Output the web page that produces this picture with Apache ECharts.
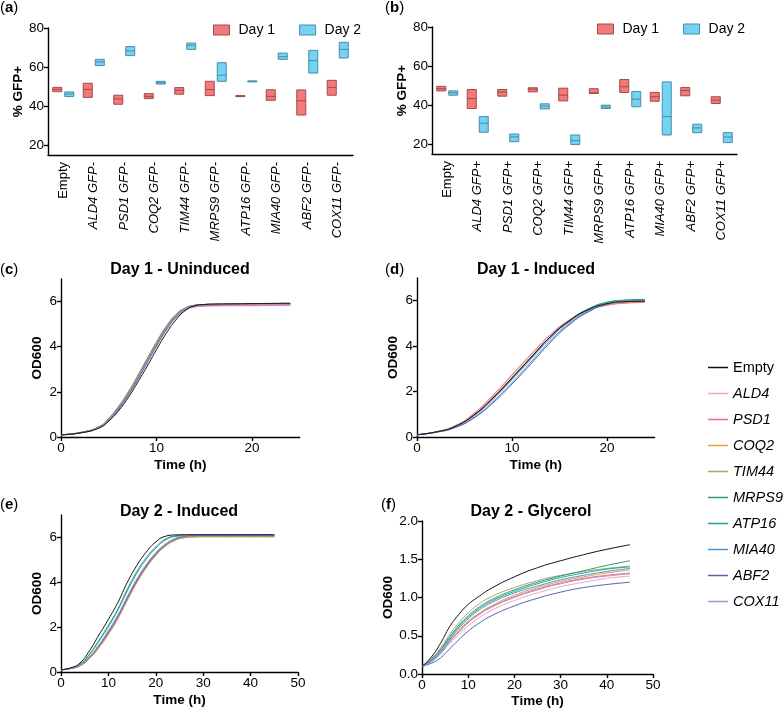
<!DOCTYPE html>
<html><head><meta charset="utf-8">
<script src="https://cdn.jsdelivr.net/npm/echarts@6/dist/echarts.min.js"></script>
<style>html,body{margin:0;padding:0;background:#fff}#c{width:784px;height:709px}</style>
</head><body><div id="c"></div>
<script>
// ---------- categories ----------
const cats = ['Empty','ALD4','PSD1','COQ2','TIM44','MRPS9','ATP16','MIA40','ABF2','COX11'];
const labelsA = cats.map(c => c === 'Empty' ? c : c + ' GFP-');
const labelsB = cats.map(c => c === 'Empty' ? c : c + ' GFP+');
const gfpTicks = [20, 40, 60, 80];

// ---------- panel (a): % GFP- (min, max, mean) ----------
const aDay1Lo   = [47.5,44.6,41.1,44.0,46.2,45.5,45.1,43.1,35.6,45.7];
const aDay1Hi   = [49.7,51.8,45.7,46.5,49.6,52.8,45.5,48.5,48.4,53.3];
const aDay1Mean = [48.7,48.7,43.8,45.1,48.2,48.6,45.3,45.1,42.9,49.7];
const aDay2Lo   = [45.0,60.8,65.9,51.4,69.1,52.8,52.6,64.0,57.0,64.7];
const aDay2Hi   = [47.4,64.0,70.5,52.8,72.3,62.3,53.0,67.2,68.6,72.7];
const aDay2Mean = [46.3,62.7,68.3,52.1,71.2,55.9,52.8,65.4,63.3,69.1];

// ---------- panel (b): % GFP+ ----------
const bDay1Lo   = [47.4,38.4,44.7,46.9,42.3,46.1,46.6,42.1,44.9,41.0];
const bDay1Hi   = [49.7,48.1,48.1,49.0,48.8,48.5,53.2,46.6,49.1,44.4];
const bDay1Mean = [48.5,43.5,46.8,48.3,45.2,46.4,49.5,44.4,47.6,42.7];
const bDay2Lo   = [45.2,26.3,21.5,38.2,20.0,38.4,39.3,24.9,26.1,21.0];
const bDay2Hi   = [47.4,34.3,25.4,40.8,24.9,40.1,47.1,52.0,30.4,26.1];
const bDay2Mean = [46.4,30.9,23.9,39.6,22.0,39.2,43.2,34.3,28.5,23.9];

// ---------- panel (c): Day 1 - Uninduced ----------
const tC = [0,2,4,5,6,7,8,9,10,11,12,13,14,15,16,18,20,22,24];
const cEmpty = [0.10,0.18,0.40,0.70,1.15,1.72,2.40,3.12,3.87,4.58,5.17,5.60,5.81,5.87,5.89,5.90,5.91,5.92,5.93];
const cALD4  = [0.10,0.18,0.41,0.73,1.20,1.80,2.50,3.25,4.00,4.70,5.25,5.60,5.75,5.79,5.80,5.81,5.81,5.82,5.82];
const cPSD1  = [0.10,0.18,0.42,0.74,1.22,1.82,2.52,3.28,4.03,4.73,5.28,5.62,5.77,5.81,5.82,5.83,5.83,5.84,5.84];
const cCOQ2  = [0.10,0.20,0.47,0.84,1.35,1.98,2.70,3.47,4.22,4.90,5.42,5.72,5.84,5.87,5.88,5.88,5.89,5.90,5.90];
const cTIM44 = [0.10,0.20,0.46,0.83,1.34,1.96,2.68,3.45,4.20,4.88,5.40,5.71,5.84,5.87,5.88,5.88,5.89,5.89,5.90];
const cMRPS9 = [0.10,0.19,0.45,0.80,1.30,1.92,2.63,3.40,4.15,4.84,5.38,5.70,5.83,5.87,5.88,5.89,5.89,5.90,5.91];
const cATP16 = [0.10,0.19,0.44,0.79,1.28,1.90,2.61,3.37,4.12,4.82,5.36,5.69,5.83,5.86,5.87,5.88,5.88,5.89,5.90];
const cMIA40 = [0.10,0.19,0.43,0.77,1.26,1.87,2.58,3.34,4.09,4.79,5.34,5.68,5.82,5.86,5.87,5.87,5.88,5.88,5.89];
const cABF2  = [0.10,0.18,0.42,0.75,1.23,1.84,2.54,3.30,4.05,4.75,5.31,5.66,5.81,5.85,5.86,5.87,5.87,5.88,5.88];
const cCOX11 = [0.10,0.19,0.44,0.78,1.27,1.88,2.59,3.35,4.10,4.80,5.35,5.68,5.82,5.85,5.86,5.86,5.87,5.87,5.87];

// ---------- panel (d): Day 1 - Induced ----------
const tD = [0,2,4,6,8,10,12,14,16,18,20,22,24];
const dEmpty = [0.10,0.22,0.46,0.97,1.72,2.60,3.50,4.40,5.10,5.60,5.87,5.96,5.98];
const dALD4  = [0.10,0.23,0.50,1.05,1.85,2.75,3.65,4.50,5.15,5.58,5.80,5.89,5.92];
const dPSD1  = [0.10,0.23,0.49,1.03,1.82,2.72,3.62,4.48,5.13,5.57,5.80,5.90,5.93];
const dCOQ2  = [0.10,0.22,0.47,0.98,1.75,2.63,3.53,4.40,5.08,5.55,5.82,5.93,5.96];
const dTIM44 = [0.10,0.22,0.46,0.96,1.72,2.60,3.50,4.39,5.09,5.58,5.87,5.98,6.02];
const dMRPS9 = [0.10,0.22,0.46,0.96,1.71,2.59,3.50,4.40,5.12,5.63,5.93,6.03,6.06];
const dATP16 = [0.10,0.22,0.45,0.94,1.68,2.56,3.47,4.38,5.11,5.63,5.93,6.02,6.05];
const dMIA40 = [0.10,0.21,0.42,0.86,1.55,2.40,3.30,4.22,4.98,5.52,5.85,5.97,6.00];
const dABF2  = [0.10,0.21,0.41,0.84,1.50,2.33,3.22,4.15,4.93,5.50,5.84,5.96,5.99];
const dCOX11 = [0.10,0.22,0.44,0.92,1.65,2.52,3.42,4.32,5.04,5.56,5.86,5.97,6.00];

// ---------- panel (e): Day 2 - Induced ----------
const tE = [0,2,4,6,8,10,12,14,16,18,20,22,24,26,28,30,35,40,45];
const eEmpty = [0.10,0.18,0.40,0.95,1.65,2.35,3.10,4.00,4.75,5.35,5.80,6.05,6.11,6.12,6.12,6.12,6.12,6.12,6.12];
const eALD4  = [0.10,0.15,0.28,0.60,1.09,1.69,2.39,3.21,3.99,4.66,5.20,5.61,5.87,6.00,6.04,6.05,6.05,6.05,6.05];
const ePSD1  = [0.10,0.15,0.28,0.61,1.10,1.70,2.40,3.22,4.00,4.67,5.21,5.62,5.88,6.00,6.03,6.04,6.04,6.04,6.04];
const eCOQ2  = [0.10,0.15,0.28,0.60,1.08,1.68,2.38,3.20,3.98,4.65,5.19,5.60,5.86,5.98,6.01,6.02,6.02,6.02,6.02];
const eTIM44 = [0.10,0.16,0.29,0.63,1.13,1.74,2.44,3.26,4.03,4.70,5.23,5.63,5.88,6.00,6.04,6.05,6.05,6.05,6.05];
const eMRPS9 = [0.10,0.17,0.35,0.80,1.42,2.08,2.82,3.70,4.48,5.10,5.58,5.92,6.06,6.09,6.09,6.09,6.09,6.09,6.09];
const eATP16 = [0.10,0.17,0.34,0.77,1.37,2.02,2.76,3.62,4.40,5.03,5.52,5.88,6.04,6.08,6.08,6.08,6.08,6.08,6.08];
const eMIA40 = [0.10,0.16,0.30,0.65,1.17,1.78,2.48,3.30,4.07,4.73,5.26,5.66,5.92,6.04,6.08,6.09,6.09,6.09,6.09];
const eABF2  = [0.10,0.16,0.30,0.66,1.19,1.80,2.50,3.32,4.09,4.75,5.28,5.68,5.93,6.06,6.10,6.11,6.11,6.11,6.11];
const eCOX11 = [0.10,0.16,0.31,0.68,1.22,1.85,2.55,3.38,4.15,4.80,5.32,5.70,5.95,6.08,6.11,6.12,6.12,6.12,6.12];

// ---------- panel (f): Day 2 - Glycerol ----------
const tF = [0,2,4,6,8,10,12,15,20,25,30,35,40,45];
const fEmpty = [0.10,0.22,0.40,0.62,0.78,0.91,1.00,1.12,1.27,1.39,1.48,1.56,1.63,1.69];
const fALD4  = [0.10,0.16,0.26,0.40,0.52,0.63,0.72,0.83,0.96,1.06,1.14,1.20,1.25,1.28];
const fPSD1  = [0.10,0.17,0.28,0.43,0.56,0.68,0.77,0.88,1.01,1.11,1.19,1.25,1.29,1.32];
const fCOQ2  = [0.10,0.17,0.28,0.43,0.57,0.69,0.78,0.89,1.03,1.13,1.21,1.27,1.32,1.36];
const fTIM44 = [0.10,0.20,0.34,0.52,0.67,0.80,0.90,1.01,1.13,1.22,1.29,1.34,1.38,1.41];
const fMRPS9 = [0.10,0.19,0.32,0.49,0.64,0.76,0.86,0.97,1.10,1.20,1.28,1.35,1.42,1.48];
const fATP16 = [0.10,0.18,0.31,0.47,0.62,0.74,0.84,0.95,1.08,1.18,1.26,1.32,1.37,1.40];
const fMIA40 = [0.10,0.17,0.29,0.45,0.60,0.72,0.82,0.93,1.06,1.15,1.23,1.29,1.34,1.38];
const fABF2  = [0.10,0.14,0.21,0.33,0.45,0.56,0.65,0.76,0.89,0.99,1.07,1.13,1.17,1.20];
const fCOX11 = [0.10,0.16,0.27,0.42,0.55,0.67,0.76,0.87,1.00,1.10,1.18,1.24,1.28,1.31];

// ---------- styling ----------
const FONT = '"Liberation Sans", Arial, sans-serif';
const RED = '#F27A78', REDB = '#A24A4A', BLUE = '#74D2F2', BLUEB = '#4A8CA8';
const lineColors = {Empty:'#111111', ALD4:'#F2A2C4', PSD1:'#E8707C', COQ2:'#E6A03A', TIM44:'#A8A86A',
  MRPS9:'#2F9A60', ATP16:'#1FA3A3', MIA40:'#4B93D3', ABF2:'#5262AC', COX11:'#A892D2'};

const curveSets = [
  {t:tC, v:{Empty:cEmpty,ALD4:cALD4,PSD1:cPSD1,COQ2:cCOQ2,TIM44:cTIM44,MRPS9:cMRPS9,ATP16:cATP16,MIA40:cMIA40,ABF2:cABF2,COX11:cCOX11}},
  {t:tD, v:{Empty:dEmpty,ALD4:dALD4,PSD1:dPSD1,COQ2:dCOQ2,TIM44:dTIM44,MRPS9:dMRPS9,ATP16:dATP16,MIA40:dMIA40,ABF2:dABF2,COX11:dCOX11}},
  {t:tE, v:{Empty:eEmpty,ALD4:eALD4,PSD1:ePSD1,COQ2:eCOQ2,TIM44:eTIM44,MRPS9:eMRPS9,ATP16:eATP16,MIA40:eMIA40,ABF2:eABF2,COX11:eCOX11}},
  {t:tF, v:{Empty:fEmpty,ALD4:fALD4,PSD1:fPSD1,COQ2:fCOQ2,TIM44:fTIM44,MRPS9:fMRPS9,ATP16:fATP16,MIA40:fMIA40,ABF2:fABF2,COX11:fCOX11}}
];

const axisLineStyle = {color:'#000', width:1.4};
function boxRender(off, fill, stroke) {
  return function (params, api) {
    const x = api.value(0);
    const pHi = api.coord([x, api.value(2)]);
    const pLo = api.coord([x, api.value(1)]);
    const pM = api.coord([x, api.value(3)]);
    const w = 9, cx = pHi[0] + off;
    const h = Math.max(pLo[1] - pHi[1], 1);
    return {type:'group', children:[
      {type:'rect', shape:{x:cx - w/2, y:pHi[1], width:w, height:h}, style:{fill:fill, stroke:stroke, lineWidth:1}},
      {type:'line', shape:{x1:cx - w/2, y1:pM[1], x2:cx + w/2, y2:pM[1]}, style:{stroke:stroke, lineWidth:1}}
    ]};
  };
}
function boxData(lo, hi, mean) { return cats.map((c, i) => [i, lo[i], hi[i], mean[i]]); }

const grids = [
  {left:48, top:28, width:305, height:127},
  {left:432, top:27, width:305, height:127},
  {left:61, top:279, width:238.75, height:158},
  {left:417, top:278, width:237.5, height:159},
  {left:61, top:515, width:237, height:157},
  {left:422, top:521, width:231, height:153}
];

function catAxis(idx, labels) {
  return {type:'category', gridIndex:idx, data:labels,
    axisLine:{lineStyle:axisLineStyle}, axisTick:{alignWithLabel:true, length:4, lineStyle:axisLineStyle},
    axisLabel:{rotate:90, margin:7, color:'#000', fontSize:13, fontFamily:FONT,
      formatter: v => v === 'Empty' ? v : '{i|' + v + '}',
      rich:{i:{fontStyle:'italic', fontSize:13, fontFamily:FONT, color:'#000'}}},
    splitLine:{show:false}};
}
function gfpAxis(idx) {
  return {type:'value', gridIndex:idx, min:15.2, max:80, name:'% GFP+', nameLocation:'middle', nameGap:22,
    nameTextStyle:{fontWeight:'bold', fontSize:13.5, fontFamily:FONT, color:'#000'},
    axisLine:{show:true, lineStyle:axisLineStyle}, axisTick:{show:true, length:4, lineStyle:axisLineStyle, customValues:gfpTicks},
    axisLabel:{color:'#000', fontSize:13.5, fontFamily:FONT, margin:4, customValues:gfpTicks}, splitLine:{show:false}};
}
function timeAxis(idx, max, ticks, gap) {
  return {type:'value', gridIndex:idx, min:0, max:max, name:'Time (h)', nameLocation:'middle', nameGap:gap,
    nameTextStyle:{fontWeight:'bold', fontSize:13.5, fontFamily:FONT, color:'#000'},
    axisLine:{show:true, onZero:false, lineStyle:axisLineStyle}, axisTick:{show:true, length:4, lineStyle:axisLineStyle, customValues:ticks},
    axisLabel:{color:'#000', fontSize:13.5, fontFamily:FONT, margin:4, customValues:ticks}, splitLine:{show:false}};
}
function odAxis(idx, max, ticks, gap, fmt) {
  return {type:'value', gridIndex:idx, min:0, max:max, name:'OD600', nameLocation:'middle', nameGap:gap,
    nameTextStyle:{fontWeight:'bold', fontSize:13.5, fontFamily:FONT, color:'#000'},
    axisLine:{show:true, onZero:false, lineStyle:axisLineStyle}, axisTick:{show:true, length:4, lineStyle:axisLineStyle, customValues:ticks},
    axisLabel:{color:'#000', fontSize:13.5, fontFamily:FONT, margin:4, customValues:ticks, formatter:fmt}, splitLine:{show:false}};
}

const xAxes = [catAxis(0, labelsA), catAxis(1, labelsB),
  timeAxis(2, 25, [0,10,20], 21), timeAxis(3, 25, [0,10,20], 21),
  timeAxis(4, 50, [0,10,20,30,40,50], 21), timeAxis(5, 50, [0,10,20,30,40,50], 20)];
const yAxes = [gfpAxis(0), gfpAxis(1),
  odAxis(2, 7, [0,2,4,6], 17), odAxis(3, 7, [0,2,4,6], 17), odAxis(4, 7, [0,2,4,6], 17),
  odAxis(5, 2, [0,0.5,1,1.5,2], 27, v => v.toFixed(1))];

const series = [
  {name:'Day 1', type:'custom', xAxisIndex:0, yAxisIndex:0, itemStyle:{color:RED, borderColor:REDB}, renderItem:boxRender(-6, RED, REDB), data:boxData(aDay1Lo,aDay1Hi,aDay1Mean), encode:{x:0, y:[1,2,3]}},
  {name:'Day 2', type:'custom', xAxisIndex:0, yAxisIndex:0, itemStyle:{color:BLUE, borderColor:BLUEB}, renderItem:boxRender(6, BLUE, BLUEB), data:boxData(aDay2Lo,aDay2Hi,aDay2Mean), encode:{x:0, y:[1,2,3]}},
  {name:'Day 1', type:'custom', xAxisIndex:1, yAxisIndex:1, itemStyle:{color:RED, borderColor:REDB}, renderItem:boxRender(-6, RED, REDB), data:boxData(bDay1Lo,bDay1Hi,bDay1Mean), encode:{x:0, y:[1,2,3]}},
  {name:'Day 2', type:'custom', xAxisIndex:1, yAxisIndex:1, itemStyle:{color:BLUE, borderColor:BLUEB}, renderItem:boxRender(6, BLUE, BLUEB), data:boxData(bDay2Lo,bDay2Hi,bDay2Mean), encode:{x:0, y:[1,2,3]}}
];
curveSets.forEach((set, k) => {
  cats.forEach(name => {
    series.push({name:name, type:'line', xAxisIndex:k+2, yAxisIndex:k+2, symbol:'none', smooth:0.5,
      z: name === 'Empty' ? 4 : 2, color:lineColors[name], lineStyle:{width:1, color:lineColors[name]},
      data:set.t.map((t, i) => [t, set.v[name][i]]), animation:false});
  });
});

function boxLegend(left, top) {
  return {left:left, top:top, orient:'horizontal', itemWidth:16, itemHeight:10, itemGap:24, selectedMode:false,
    textStyle:{fontSize:14, fontFamily:FONT, color:'#000', padding:[0,0,0,4]},
    data:[{name:'Day 1', icon:'rect', itemStyle:{color:RED, borderColor:REDB, borderWidth:1}},
          {name:'Day 2', icon:'rect', itemStyle:{color:BLUE, borderColor:BLUEB, borderWidth:1}}]};
}

function txt(text, x, y, size, align) {
  return {type:'text', x:x, y:y, style:{text:text, font:'bold ' + size + 'px ' + FONT, fill:'#000',
    align:align||'center', textAlign:align||'center', verticalAlign:'middle', textVerticalAlign:'middle'}};
}
function panelLabel(letter, x, y) {
  return {type:'text', x:x, y:y, style:{text:'(' + '{b|' + letter + '})', font:'15px ' + FONT, fill:'#000',
    verticalAlign:'top', textVerticalAlign:'top', rich:{b:{fontWeight:'bold', fontSize:15, fontFamily:FONT}}}};
}

const option = {
  animation:false,
  backgroundColor:'#fff',
  grid:grids,
  xAxis:xAxes,
  yAxis:yAxes,
  legend:[boxLegend(208, 18), boxLegend(592, 17),
    {left:703, top:355, orient:'vertical', itemWidth:20, itemHeight:1.5, itemGap:11, selectedMode:false,
     icon:'rect',
     data:cats.map(n => ({name:n, icon:'rect', itemStyle:{color:lineColors[n]}})),
     textStyle:{fontSize:14.5, fontFamily:FONT, color:'#000', lineHeight:14, padding:[0,0,0,0],
       rich:{i:{fontStyle:'italic', fontSize:14.5, fontFamily:FONT, color:'#000', lineHeight:14}}},
     formatter: n => n === 'Empty' ? n : '{i|' + n + '}'}],
  graphic:[
    panelLabel('a', 0, 0), panelLabel('b', 385, 0),
    panelLabel('c', 0, 262), panelLabel('d', 385, 262),
    panelLabel('e', 0, 497), panelLabel('f', 381, 497),
    txt('Day 1 - Uninduced', 180, 270, 16), txt('Day 1 - Induced', 536, 270, 16),
    txt('Day 2 - Induced', 179, 512, 16), txt('Day 2 - Glycerol', 531, 512, 16)
  ],
  series:series
};
const chart = echarts.init(document.getElementById('c'), null, {renderer:'canvas'});
chart.setOption(option);
</script></body></html>
